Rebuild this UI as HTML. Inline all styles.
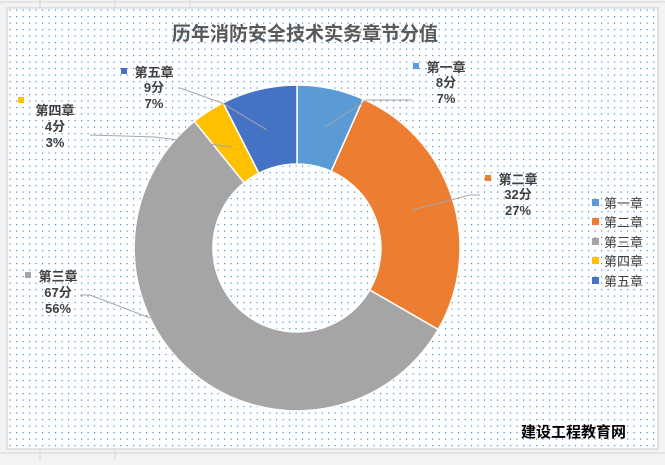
<!DOCTYPE html><html><head><meta charset="utf-8"><style>
body{margin:0;width:665px;height:460px;overflow:hidden;background:#f3f3f3;font-family:"Liberation Sans","Noto Sans CJK SC",sans-serif}
</style></head><body>
<svg width="665" height="460" xmlns="http://www.w3.org/2000/svg" font-family="Liberation Sans, Noto Sans CJK SC, sans-serif">
<defs><pattern id="d" width="6.5" height="6.5" patternUnits="userSpaceOnUse"><rect x="3" y="3" width="1.2" height="1.2" fill="#3a8ee0"/></pattern></defs>
<g stroke="#d4d4d4" stroke-width="1">
<line x1="0" y1="2" x2="665" y2="2"/><line x1="0" y1="453" x2="665" y2="453"/><line x1="40" y1="0" x2="40" y2="8"/><line x1="115" y1="0" x2="115" y2="8"/><line x1="190" y1="0" x2="190" y2="8"/><line x1="40" y1="450" x2="40" y2="460"/><line x1="115" y1="450" x2="115" y2="460"/></g>
<rect x="7" y="8" width="651" height="441" fill="#fff" stroke="#c8c8c8"/>
<rect x="8" y="9" width="649" height="439" fill="url(#d)"/>
<text x="305" y="40" text-anchor="middle" font-size="19" font-weight="bold" fill="#595959">历年消防安全技术实务章节分值</text>
<g stroke="#fff" stroke-width="1.5">
<path d="M297,85 A163,163 0 0 1 363.3,99.1 L331.2,171.3 A84,84 0 0 0 297,164Z" fill="#5b9bd5"/>
<path d="M363.3,99.1 A163,163 0 0 1 438.2,329.5 L369.7,290 A84,84 0 0 0 331.2,171.3Z" fill="#ed7d31"/>
<path d="M438.2,329.5 A163,163 0 1 1 194.4,121.3 L244.1,182.7 A84,84 0 1 0 369.7,290Z" fill="#a5a5a5"/>
<path d="M194.4,121.3 A163,163 0 0 1 223,102.8 L258.9,173.2 A84,84 0 0 0 244.1,182.7Z" fill="#ffc000"/>
<path d="M223,102.8 A163,163 0 0 1 297,85 L297,164 A84,84 0 0 0 258.9,173.2Z" fill="#4472c4"/>
</g>
<g stroke="#a6a6a6" stroke-width="1" fill="none">
<polyline points="325,127 367,100 412,100"/>
<polyline points="412,210 470,195 480,195"/>
<polyline points="150,318 90,295 80,295"/>
<polyline points="232,147 155,137 90,135"/>
<polyline points="267,130 222,103 180,88"/>
</g>
<g font-size="13" font-weight="bold" fill="#404040" text-anchor="middle">
<rect x="413" y="63" width="6" height="6" fill="#5b9bd5"/><text x="446" y="72">第一章</text><text x="446" y="87">8分</text><text x="446" y="103">7%</text>
<rect x="485" y="175" width="6" height="6" fill="#ed7d31"/><text x="518" y="184">第二章</text><text x="518" y="199">32分</text><text x="518" y="215">27%</text>
<rect x="25" y="272" width="6" height="6" fill="#a5a5a5"/><text x="58" y="281">第三章</text><text x="58" y="297">67分</text><text x="58" y="313">56%</text>
<rect x="18" y="97" width="6" height="6" fill="#ffc000"/><text x="55" y="115">第四章</text><text x="55" y="131">4分</text><text x="55" y="147">3%</text>
<rect x="121" y="68" width="6" height="6" fill="#4472c4"/><text x="154" y="77">第五章</text><text x="154" y="92">9分</text><text x="154" y="108">7%</text>
</g>
<g font-size="13" fill="#404040">
<rect x="592" y="199" width="7" height="7" fill="#5b9bd5"/><text x="604" y="208">第一章</text>
<rect x="592" y="218" width="7" height="7" fill="#ed7d31"/><text x="604" y="227">第二章</text>
<rect x="592" y="238" width="7" height="7" fill="#a5a5a5"/><text x="604" y="247">第三章</text>
<rect x="592" y="257" width="7" height="7" fill="#ffc000"/><text x="604" y="266">第四章</text>
<rect x="592" y="277" width="7" height="7" fill="#4472c4"/><text x="604" y="286">第五章</text>
</g>
<text x="521" y="437" font-size="15" font-weight="bold" fill="#000">建设工程教育网</text>
</svg></body></html>
